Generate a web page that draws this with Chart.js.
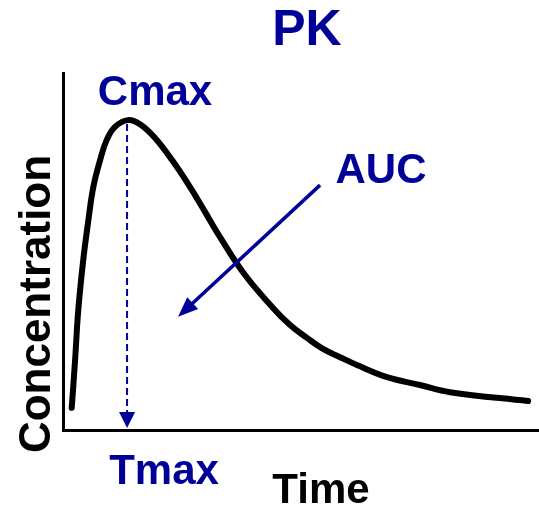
<!DOCTYPE html>
<html lang="en">
  <head>
    <meta charset="UTF-8" />
    <title>PK</title>
    <style>
      html, body { margin: 0; padding: 0; background: #fff; }
      #wrap { width: 539px; height: 513px; }
    </style>
  </head>

  <body>
    <div id="wrap">
      <canvas id="lienzo"></canvas>
    </div>
    <script src="https://cdn.jsdelivr.net/npm/chart.js"></script>
    <script>
      // time (h) and concentration
      const tiempos = [0.44, 0.61, 0.77, 1.02, 1.28, 1.53, 1.87, 2.2, 2.62, 3.28, 3.9, 4.64, 5.5, 6.4, 7.16, 7.91, 9.18, 10.59, 11.45, 12.3, 13.11, 13.97, 14.82, 16.34, 18.0, 19.51, 23.45];
      const concentraciones = [6.2, 19.6, 33.6, 47.6, 58.8, 68.1, 75.6, 81.2, 84.9, 86.8, 85.6, 81.8, 75.6, 68.1, 61.1, 54.1, 43.4, 34.2, 29.4, 25.8, 22.7, 20.4, 18.2, 14.8, 12.6, 10.6, 8.1];

      const tmax = 3.23;
      const cmax = 86.8;
      const flechaAUC = [{ x: 12.96, y: 68.6 }, { x: 5.8, y: 31.7 }];

      const azul = "#000099";
      const fuente = "bold 42px 'Liberation Sans', Arial, sans-serif";

      function punta(ctx, x1, y1, x2, y2, largo, ancho) {
        const ang = Math.atan2(y2 - y1, x2 - x1);
        ctx.beginPath();
        ctx.moveTo(x2, y2);
        ctx.lineTo(x2 - largo * Math.cos(ang) + ancho * Math.sin(ang), y2 - largo * Math.sin(ang) - ancho * Math.cos(ang));
        ctx.lineTo(x2 - largo * Math.cos(ang) - ancho * Math.sin(ang), y2 - largo * Math.sin(ang) + ancho * Math.cos(ang));
        ctx.closePath();
        ctx.fill();
      }

      const anotaciones = {
        id: "anotaciones",
        afterDatasetsDraw(chart) {
          const ctx = chart.ctx;
          const sx = chart.scales.x;
          const sy = chart.scales.y;
          ctx.save();
          ctx.fillStyle = azul;
          ctx.strokeStyle = azul;

          // Tmax dashed drop line
          const xt = sx.getPixelForValue(tmax);
          ctx.lineWidth = 2;
          ctx.setLineDash([7, 4]);
          ctx.beginPath();
          ctx.moveTo(xt, sy.getPixelForValue(cmax) + 4);
          ctx.lineTo(xt, sy.getPixelForValue(0) - 14);
          ctx.stroke();
          ctx.setLineDash([]);
          punta(ctx, xt, 300, xt, sy.getPixelForValue(0) - 2, 16, 8);

          // AUC arrow
          const ax1 = sx.getPixelForValue(flechaAUC[0].x), ay1 = sy.getPixelForValue(flechaAUC[0].y);
          const ax2 = sx.getPixelForValue(flechaAUC[1].x), ay2 = sy.getPixelForValue(flechaAUC[1].y);
          const ang = Math.atan2(ay2 - ay1, ax2 - ax1);
          ctx.lineWidth = 3.5;
          ctx.beginPath();
          ctx.moveTo(ax1, ay1);
          ctx.lineTo(ax2 - 14 * Math.cos(ang), ay2 - 14 * Math.sin(ang));
          ctx.stroke();
          punta(ctx, ax1, ay1, ax2, ay2, 20, 8);

          // texts
          ctx.font = "bold 50px 'Liberation Sans', Arial, sans-serif";
          ctx.textAlign = "center";
          ctx.textBaseline = "alphabetic";
          ctx.fillText("PK", 307, 45);
          ctx.font = fuente;
          ctx.fillText("Cmax", 155, 105);
          ctx.fillText("Tmax", 164, 484);
          ctx.fillText("AUC", 381, 183);
          ctx.fillStyle = "#000";
          ctx.fillText("Time", 321, 503);
          ctx.translate(50, 304);
          ctx.rotate(-Math.PI / 2);
          ctx.font = "bold 44px 'Liberation Sans', Arial, sans-serif";
          ctx.fillText("Concentration", 0, 0);
          ctx.restore();
        },
      };

      const grafico = new Chart(document.querySelector("#lienzo"), {
        type: "line",
        data: {
          datasets: [
            {
              label: "Concentration",
              data: tiempos.map((t, i) => ({ x: t, y: concentraciones[i] })),
              borderColor: "#000",
              borderWidth: 6,
              borderCapStyle: "round",
              borderJoinStyle: "round",
              pointRadius: 0,
              tension: 0.4,
              clip: false,
            },
          ],
        },
        options: {
          responsive: true,
          maintainAspectRatio: false,
          animation: false,
          layout: { padding: { left: 63, top: 73, right: 0, bottom: 83 } },
          plugins: {
            legend: { display: false },
            tooltip: { enabled: false },
          },
          scales: {
            x: {
              type: "linear",
              min: 0,
              max: 24,
              ticks: { display: false },
              grid: { display: false, drawTicks: false },
              border: { color: "#000", width: 3 },
            },
            y: {
              min: 0,
              max: 100,
              ticks: { display: false },
              grid: { display: false, drawTicks: false },
              border: { color: "#000", width: 3 },
            },
          },
        },
        plugins: [anotaciones],
      });
    </script>
  </body>
</html>
